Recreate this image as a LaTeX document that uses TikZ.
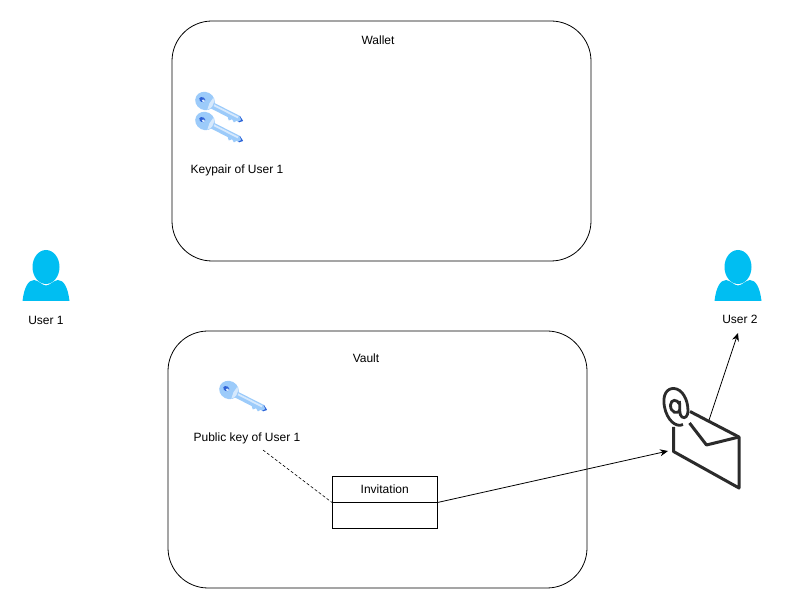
\documentclass[tikz,border=0pt]{standalone}
\usepackage{fontspec}
\setmainfont{Liberation Sans}
\usetikzlibrary{positioning,arrows.meta}
\definecolor{usercyan}{HTML}{00BEF2}
\definecolor{maildark}{HTML}{2B2B2B}
\definecolor{keyblue}{HTML}{9CCBFA}
\definecolor{keypale}{HTML}{D6E9FD}
\definecolor{keydeep}{HTML}{2F62D6}
\tikzset{
  vaultbox/.style={draw, rounded corners=40pt, line width=0.8pt},
  caption/.style={inner sep=0pt, font=\fontsize{12}{14}\selectfont},
  invitebox/.style={draw, line width=0.8pt, outer sep=0pt, minimum width=105.5pt, minimum height=25.8pt, inner sep=0pt, font=\fontsize{12}{14}\selectfont},
  link/.style={-{Stealth[length=8pt,width=7pt]}, line width=0.8pt},
  userpic/.pic={
    \fill [usercyan] (-23.5,0) .. controls (-22,-13) and (-18,-21) .. (-12,-21)
      .. controls (-7,-20.5) and (-4,-15.5) .. (0,-15.5)
      .. controls (4,-15.5) and (7,-20.5) .. (12,-21)
      .. controls (18,-21) and (22,-13) .. (23.5,0) -- cycle;
    \fill [usercyan] (0,-34) ellipse (13.5 and 17);
  },
  keypic/.pic={
    \begin{scope}[rotate=-27]
      \fill [keyblue] (7,-2.5) -- (38,-2.5) -- (43,0.5) -- (40,3.5) -- (37,3.5) -- (35.5,6) -- (32.5,4) -- (30,6.5) -- (27.5,4) -- (7,4) -- cycle;
      \fill [keypale] (9,-1.2) -- (37,-1.2) -- (37,0.6) -- (9,0.6) -- cycle;
      \fill [keydeep] (37.5,-2.5) -- (38,-2.5) -- (43,0.5) -- (40,3.5) -- (39,3.5) -- (41,0.5) -- cycle;
      \fill [keyblue] (0,0) ellipse (10 and 9);
      \fill [keypale] (6,-7) arc (-50:50:8.5 and 9) -- (5,0) -- cycle;
      \fill [keydeep] (-3,0) ellipse (3.2 and 2.4);
      \fill [keypale] (-1.5,0.5) ellipse (1.8 and 1.4);
    \end{scope}
  }
}
\begin{document}
\begin{tikzpicture}[x=1pt, y=-1pt]
  \useasboundingbox (0,0) rectangle (785,609);

  % boxes
  \draw [vaultbox] (172,21) rectangle (591,261);
  \draw [vaultbox] (168,331) rectangle (587,588);
  \node [caption] (wallet) at (378,40) {Wallet};
  \node [caption] (vault) at (366,358) {Vault};

  % users
  \path (46,301) pic {userpic};
  \path (738,301) pic {userpic};
  \node [caption] (user1) at (46,320) {User 1};
  \node [caption] (user2) at (740,319) {User 2};

  % keys
  \foreach \y in {101, 121}
  {
    \path (205,\y) pic {keypic};
  }
  \path (229,390) pic {keypic};
  \node [caption] (keypair) at (237,170) {Keypair of User 1};
  \node [caption] (pubkey) at (247,438) {Public key of User 1};

  % invitation
  \node [invitebox, anchor=north west] (invitation) at (332,476.7) {Invitation};
  \node [invitebox, below=0pt of invitation] (invitebody) {};

  % envelope
  \draw [maildark, line width=3pt, line join=round]
    (673.5,427) -- (673.5,451.5) -- (739,488) -- (739,437) -- (690,411.5);
  \draw [maildark, line width=3pt, line join=round]
    (739,437) -- (706.5,445) -- (689.5,423);
  \draw [maildark, line width=2.8pt]
    (683,424.5) .. controls (676,428) and (667,420) .. (664.5,407)
    .. controls (662,395) and (667,388) .. (674,388.5)
    .. controls (682,389) and (688,399) .. (688,411)
    .. controls (688,416) and (685,419) .. (682,417)
    .. controls (679,415) and (680,409) .. (679.5,401)
    (679.5,404) .. controls (677,399) and (671,399) .. (670.5,405)
    .. controls (670,412) and (678,416) .. (680,409);

  \coordinate (mailin) at (668,451);
  \coordinate (mailout) at (709,420);
  \coordinate (keyend) at (263,450);
  \coordinate (userin) at (738,333);

  % links
  \draw [dashed, line width=0.6pt, dash pattern=on 3pt off 2pt] (keyend) -- (invitation.south west);
  \draw [link] (invitation.south east) -- (mailin);
  \draw [link] (mailout) -- (userin);
\end{tikzpicture}
\end{document}
